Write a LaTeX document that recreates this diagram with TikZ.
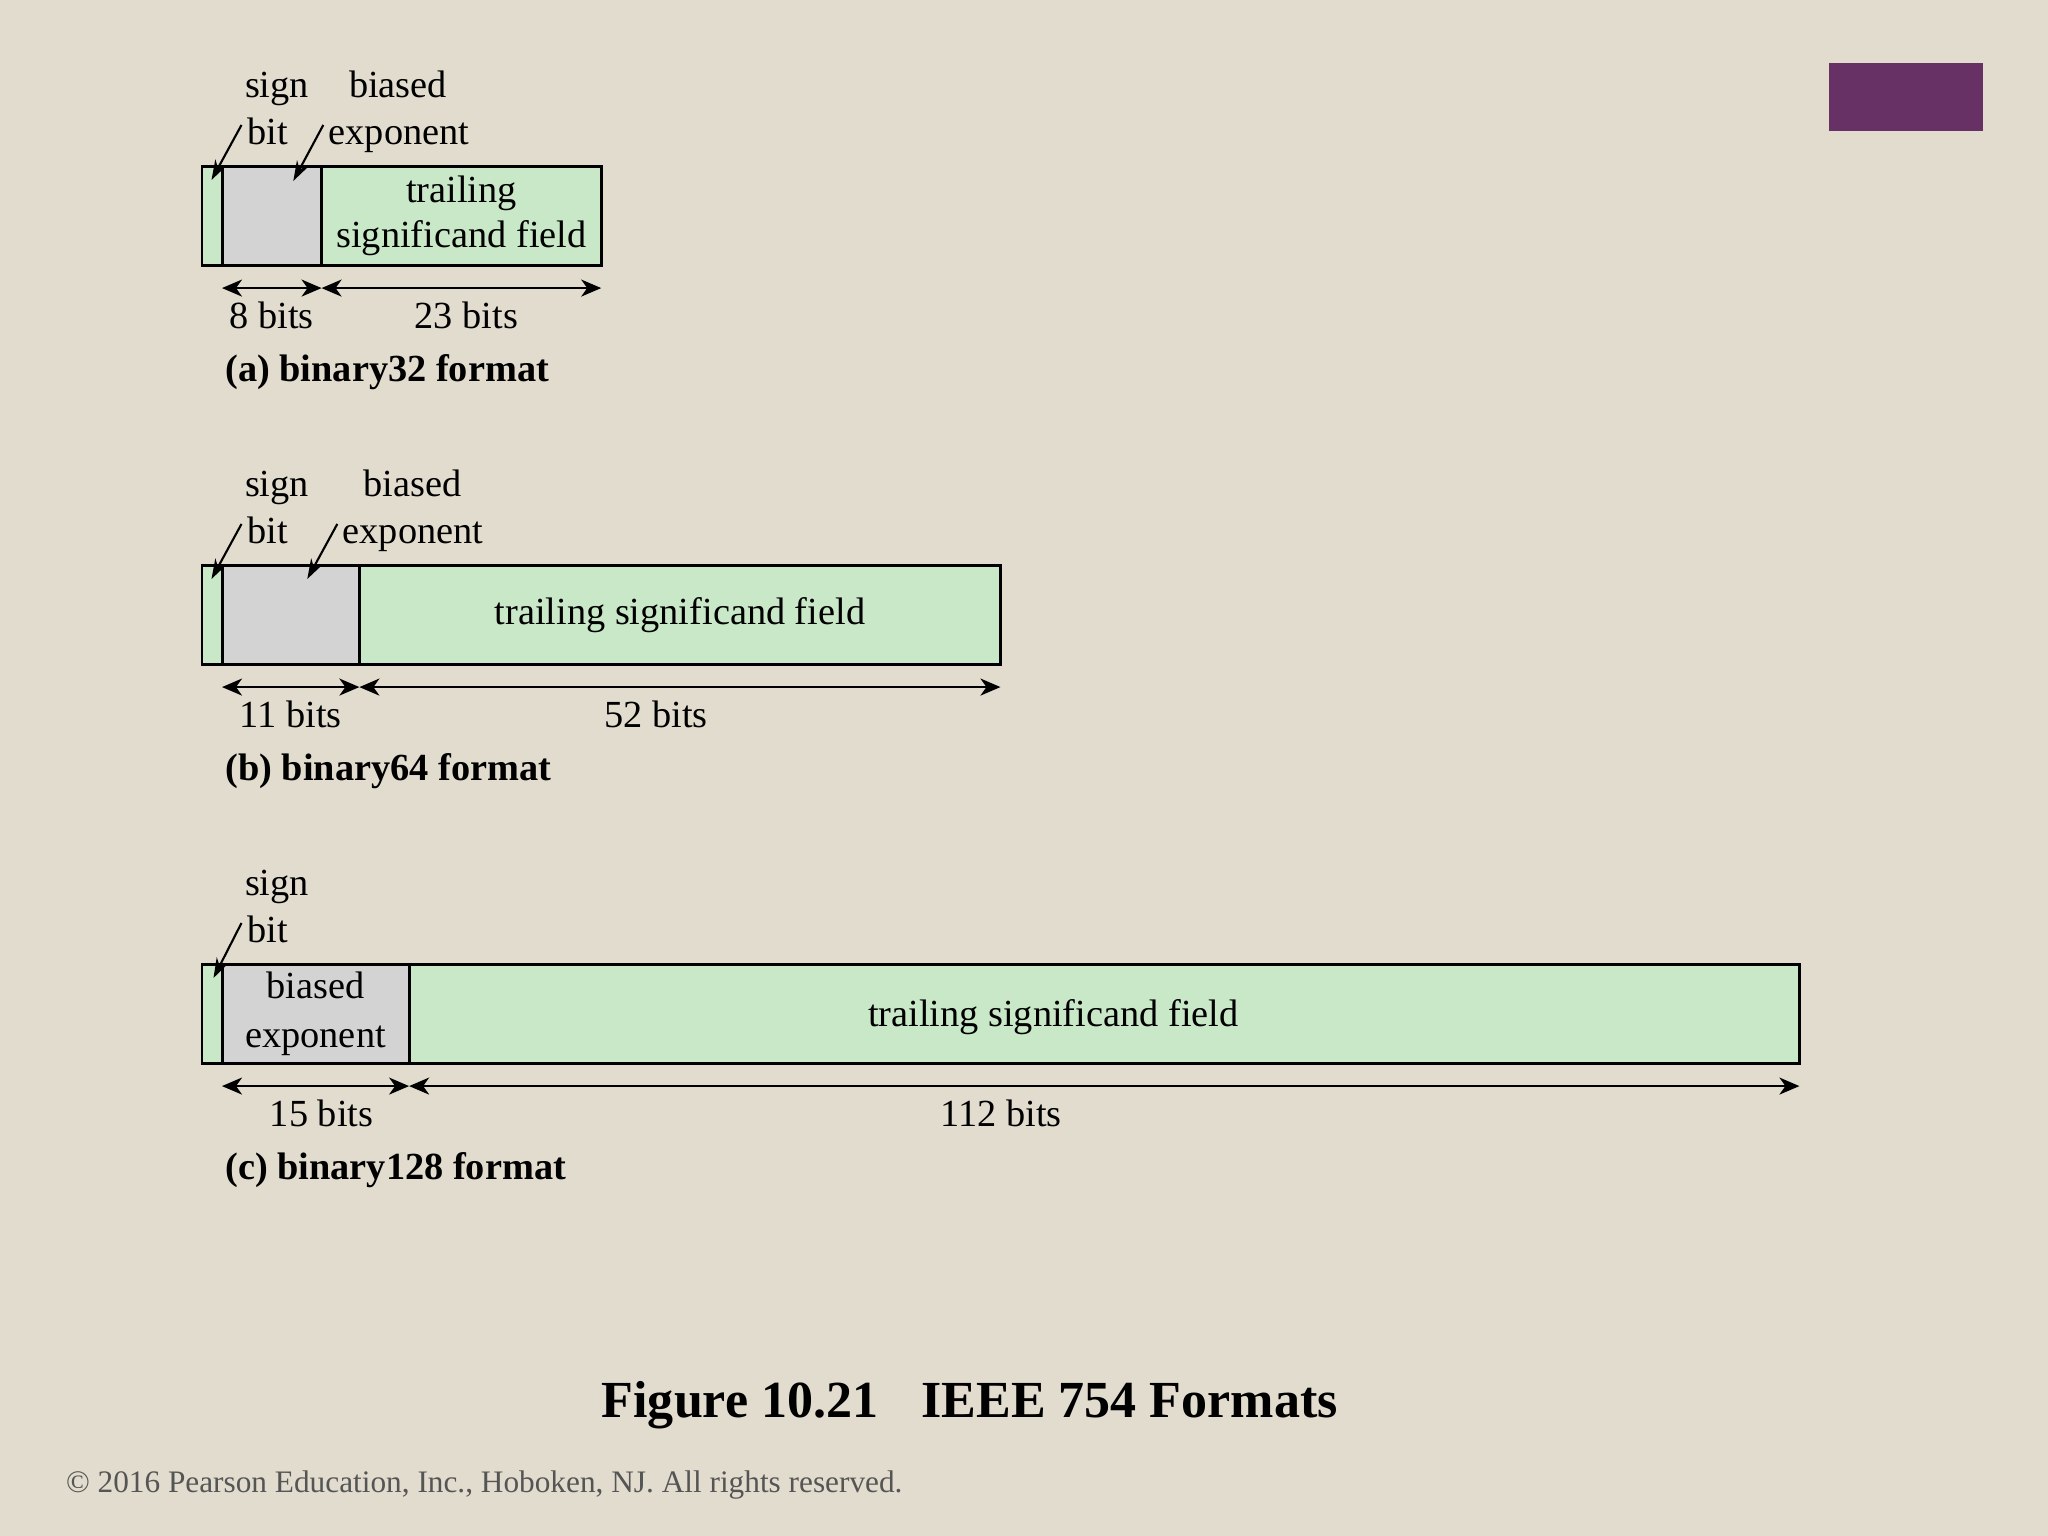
\documentclass[tikz,border=0pt]{standalone}
\usepackage{fontspec}
\setmainfont{Liberation Serif}
\usetikzlibrary{arrows.meta}

\definecolor{paper}{RGB}{226,220,206}
\definecolor{fieldgreen}{RGB}{200,232,200}
\definecolor{fieldgray}{RGB}{211,211,211}
\definecolor{slidepurple}{RGB}{104,49,101}
\definecolor{notegray}{RGB}{85,85,85}

\newcommand{\fmtfont}{\fontsize{10.9pt}{12.8pt}\selectfont}

\tikzset{
  field/.style={draw, line width=0.85pt, minimum height=0.995cm, inner sep=0pt, outer sep=0pt,
    anchor=north west, font=\fmtfont, align=center},
  signfield/.style={field, fill=fieldgreen, minimum width=0.2cm},
  expfield/.style={field, fill=fieldgray},
  fracfield/.style={field, fill=fieldgreen},
  txt/.style={font=\fmtfont, inner sep=0pt},
  caption/.style={font=\fmtfont\bfseries, inner sep=0pt, anchor=west},
  widthdim/.style={line width=0.65pt,
    {Stealth[length=0.2cm,width=0.17cm,inset=0.06cm]}-{Stealth[length=0.2cm,width=0.17cm,inset=0.06cm]}},
  pointer/.style={line width=0.6pt, -{Stealth[length=0.2cm,width=0.13cm]}}
}

\begin{document}
\begin{tikzpicture}[x=0.01cm, y=-0.01cm]
  % Paper
  \fill[paper] (0,0) rectangle (2048,1536);
  \useasboundingbox (0,0) rectangle (2048,1536);
  \fill[slidepurple] (1828.6,62.7) rectangle (1982.7,130.6);

  % (a) binary32
  \node[signfield] (a-sign) at (202,166) {};
  \node[expfield, minimum width=0.995cm] (a-exp) at (a-sign.north east) {};
  \node[fracfield, minimum width=2.795cm] (a-frac) at (a-exp.north east) {trailing\\significand field};
  \node[txt, anchor=base] (a-signlbl) at (277,97) {sign};
  \node[txt, anchor=base west] (a-bit) at (246.5,144) {bit};
  \node[txt, anchor=base] (a-biased) at (398,97) {biased};
  \node[txt, anchor=base west] (a-expo) at (328,144) {exponent};
  \draw[pointer] ([xshift=-0.05cm,yshift=0.19cm]a-bit.base west) -- ++(-30,55);
  \draw[pointer] ([xshift=-0.047cm,yshift=0.19cm]a-expo.base west) -- ++(-30,56);
  \coordinate (a-d0) at ([yshift=-0.225cm]a-exp.south west);
  \coordinate (a-d1) at ([yshift=-0.225cm]a-exp.south east);
  \coordinate (a-d2) at ([yshift=-0.225cm]a-frac.south east);
  \draw[widthdim] (a-d0) -- (a-d1);
  \draw[widthdim] (a-d1) -- (a-d2);
  \node[txt] (a-n8) at ([yshift=-0.5cm]a-exp.south) {8 bits};
  \node[txt] (a-n23) at ([xshift=0.05cm,yshift=-0.5cm]a-frac.south) {23 bits};
  \node[caption] (a-cap) at (224.6,372) {(a) binary32 format};

  % (b) binary64
  \node[signfield] (b-sign) at (202,565) {};
  \node[expfield, minimum width=1.373cm] (b-exp) at (b-sign.north east) {};
  \node[fracfield, minimum width=6.407cm] (b-frac) at (b-exp.north east) {trailing significand field};
  \node[txt, anchor=base] (b-signlbl) at (277,496) {sign};
  \node[txt, anchor=base west] (b-bit) at (246.5,543) {bit};
  \node[txt, anchor=base] (b-biased) at (412.7,496) {biased};
  \node[txt, anchor=base west] (b-expo) at (342,543) {exponent};
  \draw[pointer] ([xshift=-0.05cm,yshift=0.19cm]b-bit.base west) -- ++(-30,55);
  \draw[pointer] ([xshift=-0.047cm,yshift=0.19cm]b-expo.base west) -- ++(-30,55);
  \coordinate (b-d0) at ([yshift=-0.225cm]b-exp.south west);
  \coordinate (b-d1) at ([yshift=-0.225cm]b-exp.south east);
  \coordinate (b-d2) at ([yshift=-0.225cm]b-frac.south east);
  \draw[widthdim] (b-d0) -- (b-d1);
  \draw[widthdim] (b-d1) -- (b-d2);
  \node[txt] (b-n11) at ([yshift=-0.5cm]b-exp.south) {11 bits};
  \node[txt] (b-n52) at ([xshift=-0.24cm,yshift=-0.5cm]b-frac.south) {52 bits};
  \node[caption] (b-cap) at (224.6,771) {(b) binary64 format};

  % (c) binary128
  \node[signfield] (c-sign) at (202,964) {};
  \node[expfield, minimum width=1.87cm, font=\fontsize{10.9pt}{13.8pt}\selectfont] (c-exp) at (c-sign.north east) {biased\\exponent};
  \node[fracfield, minimum width=13.895cm] (c-frac) at (c-exp.north east) {};
  \node[txt] (c-fraclbl) at ([xshift=-0.51cm,yshift=-0.03cm]c-frac.center) {trailing significand field};
  \node[txt, anchor=base] (c-signlbl) at (277,895) {sign};
  \node[txt, anchor=base west] (c-bit) at (246.5,942) {bit};
  \draw[pointer] ([xshift=-0.05cm,yshift=0.19cm]c-bit.base west) -- ++(-28,55);
  \coordinate (c-d0) at ([yshift=-0.225cm]c-exp.south west);
  \coordinate (c-d1) at ([yshift=-0.225cm]c-exp.south east);
  \coordinate (c-d2) at ([yshift=-0.225cm]c-frac.south east);
  \draw[widthdim] (c-d0) -- (c-d1);
  \draw[widthdim] (c-d1) -- (c-d2);
  \node[txt] (c-n15) at ([xshift=0.06cm,yshift=-0.5cm]c-exp.south) {15 bits};
  \node[txt] (c-n112) at ([xshift=-1.03cm,yshift=-0.5cm]c-frac.south) {112 bits};
  \node[caption] (c-cap) at (224.6,1170) {(c) binary128 format};

  % Title and notice
  \node[font=\fontsize{14.8pt}{17pt}\selectfont\bfseries, inner sep=0pt] (title) at (969.8,1405)
    {Figure 10.21\hspace{0.83em}IEEE 754 Formats};
  \node[font=\fontsize{8.9pt}{10pt}\selectfont, text=notegray, inner sep=0pt, anchor=west] (notice) at (65.3,1485)
    {© 2016 Pearson Education, Inc., Hoboken, NJ. All rights reserved.};
\end{tikzpicture}
\end{document}
